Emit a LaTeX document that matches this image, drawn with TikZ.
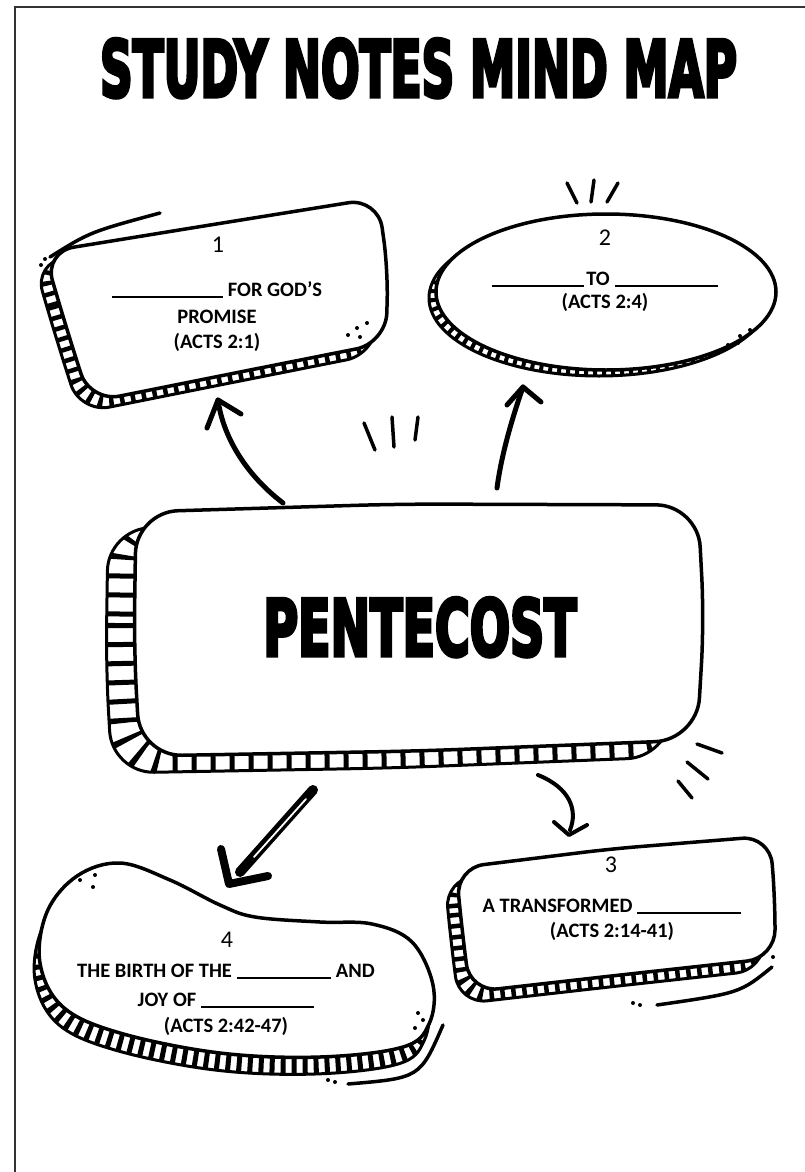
\documentclass[tikz,border=0pt]{standalone}
\usepackage{fontspec}
\usepackage{graphicx}
\setmainfont{Carlito}
\newfontfamily\titlefont{DejaVu Sans Condensed Bold}[FakeBold=5]
\newcommand\bodyfont{\fontsize{20.5}{24}\selectfont\bfseries}
\newcommand\numfont{\fontsize{24}{28}\selectfont}
\newcommand\blank[1]{\rule[-1.5pt]{#1pt}{1.4pt}}
% shapes
\def\shapeA{[rounded corners=30pt] (67,330) -- (44,252) -- (210,225) -- (378,198) -- (388,270) -- (386,343) -- (240,372) -- (90,402) -- cycle}
\def\shapeB{(606,292) ellipse [x radius=170, y radius=78]}
\def\shapeC{[rounded corners=42pt] (134,650) -- (136,512) -- (400,504) -- (698,505) -- (704,620) -- (697,740) -- (420,751) -- (140,756) -- cycle}
\def\shapeD{plot[smooth cycle, tension=0.6] coordinates {(120,863) (170,880) (220,905) (255,917) (320,922) (372,924) (412,942) (433,985) (429,1024) (403,1047) (320,1057) (220,1053) (120,1033) (63,1007) (40,963) (47,912) (77,876)}}
\def\shapeE{[rounded corners=28pt] (462,930) -- (456,868) -- (610,849) -- (770,836) -- (775,900) -- (775,958) -- (620,975) -- (470,992) -- cycle}
\newcommand\bandof[5]{%
  \path[bandback, shift={#2}] #1;
  \begin{scope}
    \clip[shift={#2}] #1;
    \path[draw=black, line width=#4, shift={#3}, #5] #1;
  \end{scope}
  \path[outline] #1;
}
\begin{document}
\begin{tikzpicture}[x=1pt,y=-1pt,
  outline/.style={fill=white, draw=black, line width=3.5pt, line join=round},
  bandback/.style={fill=white, draw=black, line width=3pt, line join=round},
  brush/.style={line width=3.5pt, line cap=round},
  arrowline/.style={line width=5pt, line cap=round, line join=round},
  dotmark/.style={fill=black},
  txt/.style={font=\bodyfont, anchor=base, inner sep=0pt},
  num/.style={font=\numfont, anchor=base, inner sep=0pt}]
\useasboundingbox (0,0) rectangle (805,1172);
\fill[white] (0,0) rectangle (805,1172);
% page border
\draw[line width=1.5pt, black!80] (15,1172) -- (15,7) -- (805,7);

% title
\node[inner sep=0pt, anchor=south] (title) at (418.5,98) {\resizebox{637pt}{58pt}{\titlefont STUDY NOTES MIND MAP}};

% box 1
\bandof{\shapeA}{(-10,11)}{(-5,5.5)}{30pt}{dash pattern=on 4.5pt off 6.5pt}
\draw[brush] (50,257) .. controls (90,232) .. (160,213);
\foreach \p in {(41,265),(45,259),(367,323),(357,328),(348,335),(360,337)} \fill[dotmark] \p circle (2);
\node[num] (n1) at (218,252) {1};
\node[txt] (t1a) at (217,296) {\blank{111}\hspace{5pt}FOR GOD'S};
\node[txt] (t1b) at (217,323) {PROMISE};
\node[txt] (t1c) at (217,348) {(ACTS 2:1)};

% box 2
\bandof{\shapeB}{(-7,6)}{(-3.5,3)}{20pt}{dash pattern=on 4pt off 5pt}
\foreach \p in {(750,330),(740,336),(728,345),(738,343)} \fill[dotmark] \p circle (2);
\draw[brush] (567,183) -- (577,203);
\draw[brush] (594,180) -- (591,202);
\draw[brush] (618,183) -- (607,202);
\node[num] (n2) at (605,245) {2};
\node[txt] (t2a) at (605,285) {\blank{92}\hspace{2pt}TO\hspace{5pt}\blank{103}};
\node[txt] (t2b) at (605,308) {(ACTS 2:4)};

% central box
\bandof{\shapeC}{(-28,17)}{(-14,8.5)}{60pt}{dash pattern=on 5pt off 14pt}
\node[inner sep=0pt, anchor=south] (center) at (420,657) {\resizebox{313pt}{58pt}{\titlefont PENTECOST}};

% box 3
\bandof{\shapeE}{(-11,12)}{(-5.5,6)}{30pt}{dash pattern=on 4.5pt off 6.5pt}
\draw[brush] (657,1005) .. controls (740,993) .. (772,967);
\foreach \p in {(633,1003),(640,1005),(773,957)} \fill[dotmark] \p circle (2);
\node[num] (n3) at (611,872) {3};
\node[txt] (t3a) at (612,912) {A TRANSFORMED\hspace{5pt}\blank{104}};
\node[txt] (t3b) at (612,937) {(ACTS 2:14-41)};

% box 4
\bandof{\shapeD}{(-5,17)}{(-2.5,8.5)}{30pt}{dash pattern=on 5pt off 6pt}
\draw[brush] (348,1084) .. controls (420,1078) .. (443,1025);
\foreach \p in {(80,880),(95,875),(93,887),(418,1013),(423,1020),(415,1028),(328,1080),(335,1082)} \fill[dotmark] \p circle (2);
\node[num] (n4) at (227,947) {4};
\node[txt] (t4a) at (226,977) {THE BIRTH OF THE\hspace{5pt}\blank{94}\hspace{5pt}AND};
\node[txt] (t4b) at (226,1006) {JOY OF\hspace{5pt}\blank{113}};
\node[txt] (t4c) at (226,1032) {(ACTS 2:42-47)};

% arrows
\coordinate (a1s) at (283,503); \coordinate (a1e) at (218,400);
\coordinate (a2s) at (497,488); \coordinate (a2e) at (523,387);
\coordinate (a3s) at (538,775); \coordinate (a3e) at (569,835);
\coordinate (a4s) at (313,790); \coordinate (a4e) at (229,884);
\draw[arrowline] (a1s) .. controls (240,470) and (222,430) .. (a1e);
\draw[arrowline] (207,428) -- (a1e) -- (241,414);
\draw[arrowline] (a2s) .. controls (502,450) and (515,410) .. (a2e);
\draw[arrowline] (507,405) -- (a2e) -- (541,402);
\draw[line width=4pt, line cap=round] (a3s) .. controls (570,788) and (578,810) .. (570,830);
\draw[arrowline, line width=4pt] (554,822) -- (a3e) -- (587,825);
\draw[line width=10pt, line cap=round] (a4s) -- (240,872);
\draw[white, line width=1.8pt, line cap=round] (306,799) -- (254,857);
\draw[arrowline, line width=8pt] (221,849) -- (a4e) -- (268,876);

% bursts
\draw[brush] (364,423) -- (375,450);
\draw[brush] (392,417) -- (394,447);
\draw[brush] (418,417) -- (415,440);
\draw[brush] (697,744) -- (722,753);
\draw[brush] (687,762) -- (708,779);
\draw[brush] (678,781) -- (692,798);
\end{tikzpicture}
\end{document}
